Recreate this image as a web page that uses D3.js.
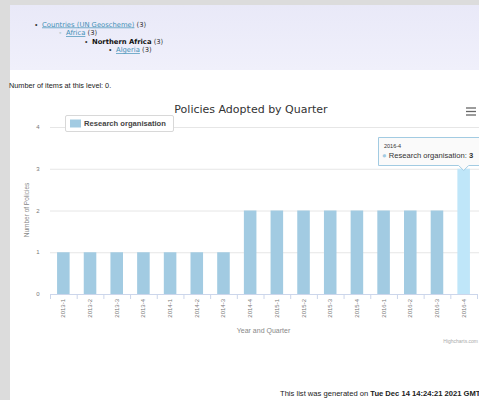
<!DOCTYPE html>
<html><head><meta charset="utf-8">
<script src="https://cdn.jsdelivr.net/npm/d3@7"></script>
<style>body{margin:0;padding:0;overflow:hidden;background:#dcdcdc}svg{display:block}</style>
</head><body>
<script>
const categories = ["2013-1","2013-2","2013-3","2013-4","2014-1","2014-2","2014-3","2014-4","2015-1","2015-2","2015-3","2015-4","2016-1","2016-2","2016-3","2016-4"];
const researchValues = [1,1,1,1,1,1,1,2,2,2,2,2,2,2,2,3];
const yTicks = [0,1,2,3,4];
const seriesName = "Research organisation";
const hoverIndex = 15;
const breadcrumbs = [
  {bullet:"•", text:"Countries (UN Geoscheme)", count:"(3)", link:true, bold:false},
  {bullet:"◦", text:"Africa", count:"(3)", link:true, bold:false},
  {bullet:"•", text:"Northern Africa", count:"(3)", link:false, bold:true},
  {bullet:"•", text:"Algeria", count:"(3)", link:true, bold:false}
];

const W = 479, H = 400;
const svg = d3.select("body").append("svg").attr("width", W).attr("height", H)
  .style("font-family", "'Liberation Sans', Arial, sans-serif");

// page background
svg.append("rect").attr("x",0).attr("y",0).attr("width",W).attr("height",H).attr("fill","#dcdcdc");
svg.append("rect").attr("x",10).attr("y",5).attr("width",W-10).attr("height",H-5).attr("fill","#ffffff");
const grad = svg.append("defs").append("linearGradient").attr("id","lav").attr("x1",0).attr("y1",0).attr("x2",0).attr("y2",1);
grad.append("stop").attr("offset","0%").attr("stop-color","#e9e9f8");
grad.append("stop").attr("offset","100%").attr("stop-color","#f0f0fb");
svg.append("rect").attr("x",10).attr("y",5).attr("width",W-10).attr("height",65).attr("fill","url(#lav)");

// breadcrumbs
const bx = [35, 59, 85, 109], by = [26.5, 35, 43.5, 52];
breadcrumbs.forEach((b,i)=>{
  svg.append("text").attr("x",bx[i]).attr("y",by[i]).attr("font-size",7).attr("fill", i===1?"#7aa":"#333").text(b.bullet);
  const t = svg.append("text").attr("x",bx[i]+7).attr("y",by[i]).attr("font-size",6.8)
    .style("font-family","'DejaVu Sans', sans-serif");
  t.append("tspan").text(b.text)
    .attr("fill", b.link ? "#3f8fb5" : "#111")
    .attr("font-weight", b.bold ? "bold" : "normal")
    .attr("text-decoration", b.link ? "underline" : null);
  t.append("tspan").text(" " + b.count).attr("fill","#333");
});

svg.append("text").attr("x",9).attr("y",88).attr("font-size",7.3).attr("fill","#222").text("Number of items at this level: 0.");

// chart
const plotL = 50, plotR = 477, plotT = 127, plotB = 294;
const x = d3.scaleBand().domain(categories).range([plotL, plotR]).padding(0);
const y = d3.scaleLinear().domain([0,4]).range([plotB, plotT]);

svg.append("text").attr("x",251).attr("y",113).attr("text-anchor","middle")
  .attr("fill","#333").style("font-family","'DejaVu Sans', sans-serif").attr("font-size",11)
  .text("Policies Adopted by Quarter");

// menu icon
[108,111.5,115].forEach(yy=>{
  svg.append("line").attr("x1",466).attr("x2",476).attr("y1",yy).attr("y2",yy).attr("stroke","#666").attr("stroke-width",1.3);
});

// gridlines
svg.append("g").selectAll("line").data(yTicks.filter(d=>d>0)).join("line")
  .attr("x1",plotL).attr("x2",W).attr("y1",d=>y(d)+0.5).attr("y2",d=>y(d)+0.5)
  .attr("stroke","#e6e6e6").attr("stroke-width",1);

// y labels
svg.append("g").selectAll("text").data(yTicks).join("text")
  .attr("x",38).attr("y",d=>y(d)+2).attr("text-anchor","middle")
  .attr("font-size",6).attr("fill","#777").text(d=>d);

svg.append("text").attr("transform","translate(29,210) rotate(-90)").attr("text-anchor","middle")
  .attr("font-size",6.5).attr("fill","#888").text("Number of Policies");

// bars
const step = x.step();
const bw = step*0.47;
svg.append("g").selectAll("rect").data(researchValues).join("rect")
  .attr("x",(d,i)=>x(categories[i]) + (step-bw)/2)
  .attr("y",d=>y(d))
  .attr("width",bw)
  .attr("height",d=>y(0)-y(d))
  .attr("fill",(d,i)=> i===hoverIndex ? "#bfe6f9" : "#a2cbe2");

// x axis
svg.append("line").attr("x1",plotL).attr("x2",plotR).attr("y1",plotB+0.5).attr("y2",plotB+0.5).attr("stroke","#ccd6eb");
svg.append("g").selectAll("line").data(d3.range(categories.length+1)).join("line")
  .attr("x1",i=>plotL + i*step + 0.5).attr("x2",i=>plotL + i*step + 0.5)
  .attr("y1",plotB).attr("y2",plotB+5).attr("stroke","#ccd6eb");
svg.append("g").selectAll("text").data(categories).join("text")
  .attr("transform",d=>`translate(${x(d)+step/2+2},${plotB+5}) rotate(-90)`)
  .attr("text-anchor","end").attr("font-size",6).attr("fill","#777").text(d=>d);

svg.append("text").attr("x",(plotL+plotR)/2).attr("y",333).attr("text-anchor","middle")
  .attr("font-size",7).attr("fill","#888").text("Year and Quarter");
svg.append("text").attr("x",478).attr("y",343).attr("text-anchor","end")
  .attr("font-size",5).attr("fill","#aaa").text("Highcharts.com");

// legend
svg.append("rect").attr("x",65.5).attr("y",115.5).attr("width",108).attr("height",16)
  .attr("fill","#fff").attr("stroke","#d8d8d8").attr("rx",1.5);
svg.append("rect").attr("x",70).attr("y",119.5).attr("width",11).attr("height",8).attr("fill","#a2cbe2");
svg.append("text").attr("x",84).attr("y",126).attr("font-size",7.6).attr("font-weight","bold").attr("fill","#444")
  .text(seriesName);

// tooltip
const hx = x(categories[hoverIndex]) + step/2;
const tt = svg.append("g");
const tx0 = 378.5, ty0 = 137.5, tx1 = 495, ty1 = 165.5;
tt.append("path")
  .attr("d",`M${tx0},${ty0} H${tx1} V${ty1} H${hx+5} L${hx},${ty1+5} L${hx-5},${ty1} H${tx0} Z`)
  .attr("fill","rgba(250,250,250,0.95)").attr("stroke","#a2cbe2").attr("stroke-width",1);
tt.append("text").attr("x",384).attr("y",148).attr("font-size",5.5).attr("fill","#333").text(categories[hoverIndex]);
const t2 = tt.append("text").attr("x",382).attr("y",158).attr("font-size",7.6).attr("fill","#333");
t2.append("tspan").attr("fill","#a2cbe2").text("● ");
t2.append("tspan").text(seriesName + ": ");
t2.append("tspan").attr("font-weight","bold").text(researchValues[hoverIndex]);

// footer
const ft = svg.append("text").attr("x",280).attr("y",396).attr("font-size",7.6).attr("fill","#222");
ft.append("tspan").text("This list was generated on ");
ft.append("tspan").attr("font-weight","bold").text("Tue Dec 14 14:24:21 2021 GMT");
</script>
</body></html>
